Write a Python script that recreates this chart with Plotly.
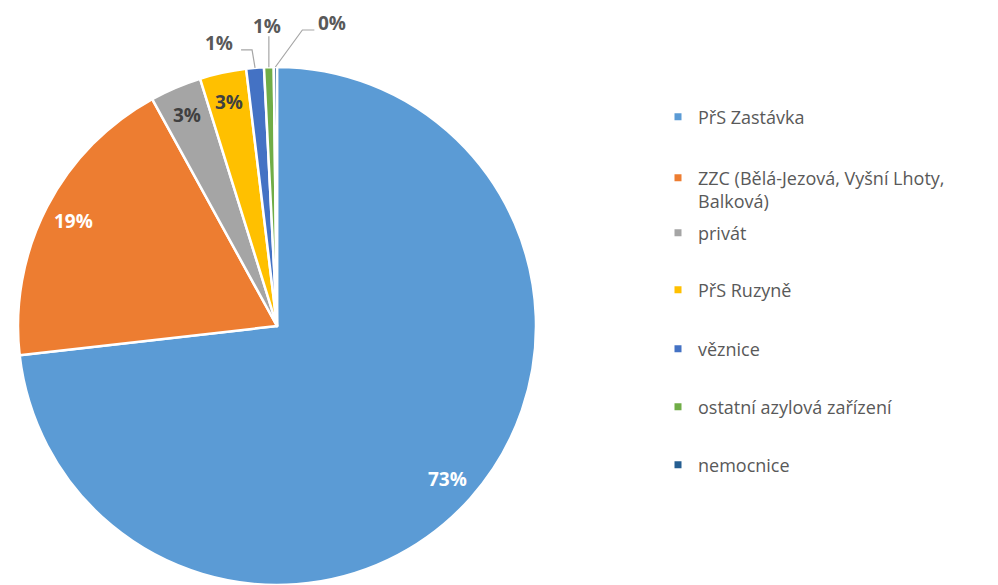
import math
import plotly.graph_objects as go

# ---- data ----
labels = ["PřS Zastávka", "ZZC (Bělá-Jezová, Vyšní Lhoty, Balková)", "privát",
          "PřS Ruzyně", "věznice", "ostatní azylová zařízení", "nemocnice"]
legend_names = ["PřS Zastávka", "ZZC (Bělá-Jezová, Vyšní Lhoty,<br>Balková)", "privát",
                "PřS Ruzyně", "věznice", "ostatní azylová zařízení", "nemocnice"]
values = [73.2, 18.8, 3.2, 2.9, 1.1, 0.6, 0.2]
colors = ["#5B9BD5", "#ED7D31", "#A5A5A5", "#FFC000", "#4472C4", "#70AD47", "#255E91"]
label_colors = ["white", "white", "#404040", "#404040", "#595959", "#595959", "#595959"]
inside = [True, True, True, True, False, False, False]

# ---- geometry / style (screen pixels; page body has an 8px margin) ----
SCREEN_W, SCREEN_H = 998, 585
OFF = 8
W, H = SCREEN_W - OFF, SCREEN_H - OFF
CX, CY, R = 277, 326, 259
FONT = "Open Sans"

def px(x):
    return (x - OFF) / W

def py(y):
    return 1 - (y - OFF) / H

fig = go.Figure()
fig.add_trace(go.Pie(
    labels=labels, values=values, sort=False, direction="clockwise", rotation=0,
    marker=dict(colors=colors, line=dict(color="white", width=2.5)),
    textinfo="none", hoverinfo="label+percent", showlegend=False,
    domain=dict(x=[px(CX - R), px(CX + R)], y=[max(0, py(CY + R)), py(CY - R)]),
))

total = sum(values)
cum = 0.0
annotations = []
shapes = []
# leader layout for outside labels: elbow points and text position relative to slice edge
outside_layout = {
    4: dict(path=[(-3, -18), (-14, -18)], text=(-36, -25)),
    5: dict(path=[(0, -31)], text=(-2, -41)),
    6: dict(path=[(27, -37), (39, -37)], text=(57, -44)),
}
for i, v in enumerate(values):
    mid = (cum + v / 2) / total * 2 * math.pi
    cum += v
    pct = f"{round(v / total * 100):.0f}%"
    if inside[i]:
        d = 0.885 * R
        x = CX + d * math.sin(mid)
        y = CY - d * math.cos(mid)
        annotations.append(dict(x=px(x), y=py(y), xref="paper", yref="paper", text=pct,
                                showarrow=False, xanchor="center", yanchor="middle",
                                font=dict(family=FONT, size=19, color=label_colors[i], weight="bold")))
    else:
        ax = CX + R * math.sin(mid)
        ay = CY - R * math.cos(mid)
        lay = outside_layout[i]
        pts = [(ax, ay)] + [(ax + dx, ay + dy) for dx, dy in lay["path"]]
        path = "M " + " L ".join(f"{px(a)},{py(b)}" for a, b in pts)
        shapes.append(dict(type="path", path=path, xref="paper", yref="paper",
                           line=dict(color="#A6A6A6", width=1.2)))
        tx, ty = ax + lay["text"][0], ay + lay["text"][1]
        annotations.append(dict(x=px(tx), y=py(ty), xref="paper", yref="paper", text=pct,
                                showarrow=False, xanchor="center", yanchor="middle",
                                font=dict(family=FONT, size=19, color=label_colors[i], weight="bold")))

# legend entries (one small legend per entry to reproduce Excel spacing)
legend_centers = [117, 189.5, 233, 290, 349, 407, 465]
layout_legends = {}
for i, name in enumerate(legend_names):
    key = "legend" if i == 0 else f"legend{i + 1}"
    fig.add_trace(go.Scatter(
        x=[None], y=[None], mode="markers", name=name, legend=key,
        marker=dict(symbol="square", size=7, color=colors[i]), showlegend=True,
    ))
    layout_legends[key] = dict(
        x=px(658), y=py(legend_centers[i]), xanchor="left", yanchor="middle",
        valign="top", bgcolor="rgba(0,0,0,0)", borderwidth=0,
        font=dict(family=FONT, size=18, color="#595959"),
    )

fig.update_layout(
    width=W, height=H, margin=dict(l=0, r=0, t=0, b=0),
    paper_bgcolor="white", plot_bgcolor="white",
    xaxis=dict(visible=False), yaxis=dict(visible=False),
    annotations=annotations, shapes=shapes,
    **layout_legends,
)

fig.write_html("out.html")
